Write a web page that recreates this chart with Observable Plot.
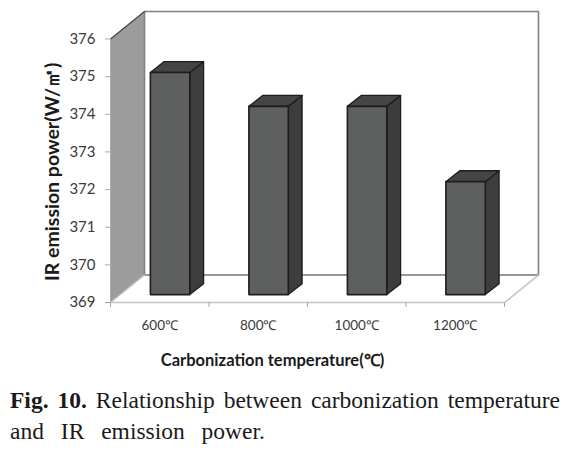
<!DOCTYPE html>
<html><head><meta charset="utf-8">
<script src="https://cdn.jsdelivr.net/npm/d3@7"></script>
<script src="https://cdn.jsdelivr.net/npm/@observablehq/plot@0.6"></script>
<style>
html,body{margin:0;padding:0;background:#fff}
#cap{width:550px;margin:0 0 0 10px;font-family:"Liberation Serif",serif;font-size:23.5px;line-height:31px;color:#1a1a1a}
#cap .l1{text-align:justify;text-align-last:justify;white-space:nowrap}
#cap .l2{word-spacing:11px}
svg{display:block}
</style></head><body>
<div id="c"></div>
<div id="cap"><div class="l1"><b>Fig. 10.</b> Relationship between carbonization temperature</div><div class="l2">and IR emission power.</div></div>
<script>
const categories = ["600℃","800℃","1000℃","1200℃"];
const values = [374.9, 374, 374, 372];
const yTicks = [369,370,371,372,373,374,375,376];
const xLabel = "Carbonization temperature(℃)";
const yLabel = "IR emission power(W/㎡)";

// 3-D projection, expressed in scale units
const wallDx = 0.345, wallDy = 0.73;
const barStart = 0.405, barWidth = 0.4, barDx = 0.14, barDy = 0.29, barLift = 0.21;
const yMin = 369, yMax = 376, n = categories.length;

const poly = (pts, style) => Plot.line([...pts, pts[0]], {x:"0", y:"1", strokeLinejoin:"round", ...style});
const seg = (pts, stroke, strokeWidth) => Plot.line(pts, {x:"0", y:"1", stroke, strokeWidth});

const wall = poly([[0,yMin],[wallDx,yMin+wallDy],[wallDx,yMax+wallDy],[0,yMax]], {fill:"#9c9c9c", stroke:"none"});
const bars = values.flatMap((v,i) => {
  const x0 = i+barStart, x1 = x0+barWidth, b = yMin+barLift, t = v+barLift-0.0;
  return [
    poly([[x1,b],[x1+barDx,b+barDy],[x1+barDx,t+barDy],[x1,t]], {fill:"#3c3e3c", stroke:"#1d1d1d", strokeWidth:1.3}),
    poly([[x0,t],[x0+barDx,t+barDy],[x1+barDx,t+barDy],[x1,t]], {fill:"#444644", stroke:"#1d1d1d", strokeWidth:1.3}),
    poly([[x0,b],[x1,b],[x1,t],[x0,t]], {fill:"#5e605f", stroke:"#1d1d1d", strokeWidth:1.6})
  ];
});

const plot = Plot.plot({
  width:580, height:385,
  marginLeft:110, marginRight:76, marginTop:38.5, marginBottom:83,
  style:{background:"#fff", fontFamily:"Lato, sans-serif", overflow:"visible"},
  x:{type:"linear", domain:[0,n]},
  y:{type:"linear", domain:[yMin,yMax]},
  marks:[
    wall,
    seg([[wallDx,yMin+wallDy],[wallDx,yMax+wallDy],[n+wallDx,yMax+wallDy],[n+wallDx,yMin+wallDy]], "#808080", 1.6),
    seg([[wallDx,yMin+wallDy],[n+wallDx,yMin+wallDy]], "#777", 1.4),
    seg([[0,yMax],[wallDx,yMax+wallDy]], "#444", 1.2),
    seg([[0,yMin],[0,yMax]], "#aaa", 1),
    seg([[0,yMin],[wallDx,yMin+wallDy]], "#c4c4c4", 1.3),
    seg([[0,yMin],[n,yMin],[n+wallDx,yMin+wallDy]], "#c4c4c4", 1.6),
    ...bars,
    Plot.axisY({ticks:yTicks, tickSize:5, tickPadding:10, stroke:"#a8a8a8", fill:"#3a3a3a", fontSize:15, tickFormat:d=>String(d), label:null}),
    Plot.axisX({ticks:d3.range(n+1), tickSize:5, tickFormat:()=>"", stroke:"#a8a8a8", label:null}),
    Plot.axisX({ticks:categories.map((_,i)=>i+0.5), tickSize:0, tickPadding:18, tickFormat:d=>categories[Math.floor(d)], fill:"#3a3a3a", fontSize:13.5, label:null}),
    Plot.text([xLabel], {text:d=>d, frameAnchor:"bottom", lineAnchor:"middle", dx:-35, dy:58, fontSize:16.5, fontWeight:"bold", fill:"#1a1a1a"}),
    Plot.text([yLabel], {text:d=>d, frameAnchor:"left", textAnchor:"middle", rotate:-90, dx:-58, dy:1, fontSize:19.5, fontWeight:"bold", fill:"#1a1a1a"})
  ]
});
document.getElementById("c").appendChild(plot);
</script>
</body></html>
